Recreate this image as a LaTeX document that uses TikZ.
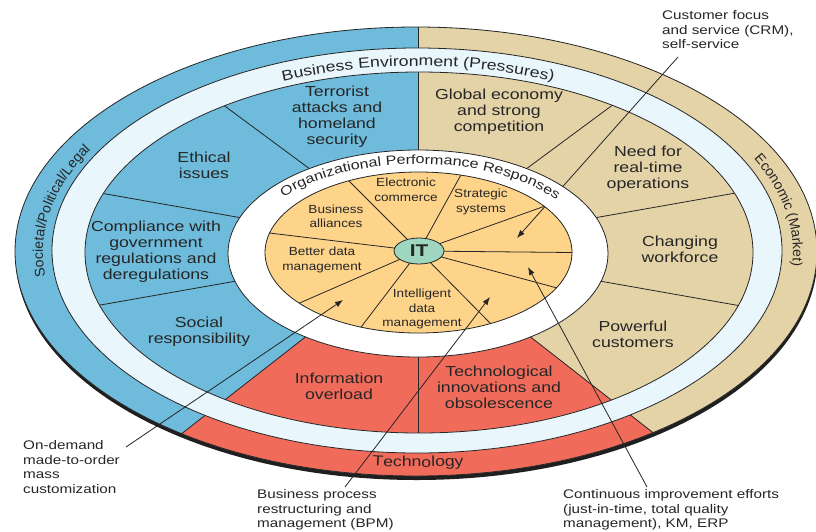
\documentclass[tikz,border=0pt]{standalone}
\usepackage{fontspec}
\setmainfont{Liberation Sans}[FakeStretch=1.22]
\newfontfamily\sidefont{Liberation Sans}
\newfontfamily\respfont{Liberation Sans}[FakeStretch=1.15]
\usetikzlibrary{shapes.geometric,decorations.text,arrows.meta}

\definecolor{envblue}{RGB}{110,187,219}
\definecolor{envtan}{RGB}{229,211,168}
\definecolor{envred}{RGB}{241,107,91}
\definecolor{bandlight}{RGB}{233,246,252}
\definecolor{respgold}{RGB}{254,212,138}
\definecolor{itgreen}{RGB}{158,214,192}
\definecolor{ink}{RGB}{38,38,38}

\tikzset{
  divline/.style={draw=ink, line width=0.8pt},
  rimline/.style={draw=ink, line width=0.8pt},
  press/.style={align=center, inner sep=0pt, text=ink,
    font=\fontsize{14.5}{16}\selectfont},
  resp/.style={align=center, inner sep=0pt, text=ink,
    font=\respfont\fontsize{11.8}{14.5}\selectfont},
  callout/.style={align=left, anchor=north west, inner sep=0pt, text=ink,
    font=\fontsize{12.5}{14.8}\selectfont},
  callline/.style={draw=ink, line width=0.8pt, -{Latex[length=8pt,width=6pt]}},
}

\begin{document}
\begin{tikzpicture}[x=1pt,y=1pt,line join=round]
\useasboundingbox (0,0) rectangle (816,-531);
\fill[white] (0,0) rectangle (816,-531);

% drop shadow under the outer disc
\fill[black!88] (416.5,-255.5) ellipse[x radius=401pt, y radius=224.5pt];

% three environment sectors (outer band and pressures ring)
\begin{scope}
  \clip (416,-251.5) ellipse[x radius=401pt, y radius=224.5pt];
  \fill[envblue] (0,0) rectangle (816,-531);
  \begin{scope}[shift={(418,-249)}]
    \fill[envtan] (0,0) -- (90:700) -- (45:900) -- (0:700) -- (-38:700) -- cycle;
    \fill[envred] (0,0) -- (218:700) -- (270:700) -- (322:700) -- cycle;
    \draw[divline] (0,0) -- (218:700);
    \draw[divline] (0,0) -- (322:700);
    \draw[divline] (0,0) -- (90:700);
  \end{scope}
\end{scope}

% divisions between the individual pressures
\begin{scope}
  \clip (419,-252.5) ellipse[x radius=334pt, y radius=180.5pt];
  \begin{scope}[shift={(418,-249)}]
    \foreach \a in {143.5,170,190,270,350,10,36.5}
      \draw[divline] (0,0) -- (\a:500);
  \end{scope}
\end{scope}

% light band carrying the ring title
\fill[bandlight, even odd rule]
  (417,-250.5) ellipse[x radius=365pt, y radius=202.5pt]
  (419,-252.5) ellipse[x radius=334pt, y radius=180.5pt];
\draw[rimline] (416,-251.5) ellipse[x radius=401pt, y radius=224.5pt];
\draw[rimline] (417,-250.5) ellipse[x radius=365pt, y radius=202.5pt];
\draw[rimline] (419,-252.5) ellipse[x radius=334pt, y radius=180.5pt];

% white ring and the responses disc
\filldraw[fill=white, rimline] (418,-253.5) ellipse[x radius=190pt, y radius=103.5pt];
\fill[respgold] (418.5,-252.5) ellipse[x radius=153.5pt, y radius=80.5pt];
\begin{scope}[shift={(418.5,-252.5)}]
  \foreach \t in {117,74,35,0,-26,-62,248,219,166}
    \draw[divline] (0.5,1.5) -- (\t:153.5pt and 80.5pt);
\end{scope}
\draw[rimline] (418.5,-252.5) ellipse[x radius=153.5pt, y radius=80.5pt];
\node[ellipse, draw=ink, line width=0.8pt, fill=itgreen, minimum width=50pt,
  minimum height=26pt, inner sep=0pt, text=ink,
  font=\fontsize{17}{17}\selectfont\bfseries] (it) at (419,-251) {IT};

% ring titles
\path[decorate, decoration={text along path, text align=center,
  text={|\fontsize{14.5}{14.5}\selectfont\color{ink}|Business Environment (Pressures)}}]
  (418,-252) ++(150:341pt and 186pt)
  arc[start angle=150, end angle=30, x radius=341pt, y radius=186pt];
\path[decorate, decoration={text along path, text align=center,
  text={|\fontsize{13.2}{13.2}\selectfont\color{ink}|Organizational Performance Responses}}]
  (418,-252) ++(165:172pt and 88pt)
  arc[start angle=165, end angle=12, x radius=172pt, y radius=88pt];
\path[decorate, decoration={text along path, text align=center,
  text={|\fontsize{14.5}{14.5}\selectfont\color{ink}|Technology}}]
  (418,-252) ++(245:380pt and 215pt)
  arc[start angle=245, end angle=295, x radius=380pt, y radius=215pt];
\path[decorate, decoration={text along path, text align=center,
  text={|\sidefont\fontsize{14}{14}\selectfont\color{ink}|Societal/Political/Legal}}]
  (418,-252) ++(200:375pt and 209pt)
  arc[start angle=200, end angle=140, x radius=375pt, y radius=209pt];
\path[decorate, decoration={text along path, text align=center,
  text={|\sidefont\fontsize{14}{14}\selectfont\color{ink}|Economic (Market)}}]
  (418,-252) ++(38:375pt and 209pt)
  arc[start angle=38, end angle=-18, x radius=375pt, y radius=209pt];

% pressures
\node[press] (terror) at (337,-117) {Terrorist\\attacks and\\homeland\\security};
\node[press] (ethic) at (204,-165.5) {Ethical\\issues};
\node[press] (comply) at (156,-252) {Compliance with\\government\\regulations and\\deregulations};
\node[press] (social) at (199,-332) {Social\\responsibility};
\node[press] (global) at (499,-112) {Global economy\\and strong\\competition};
\node[press] (realtime) at (648,-169) {Need for\\real-time\\operations};
\node[press] (workforce) at (680,-249.5) {Changing\\workforce};
\node[press] (customers) at (633,-334) {Powerful\\customers};
\node[press] (overload) at (339,-386) {Information\\overload};
\node[press] (innov) at (499,-387.5) {Technological\\innovations and\\obsolescence};

% responses
\node[resp] (ecom) at (406,-190) {Electronic\\commerce};
\node[resp] (strat) at (481,-202) {Strategic\\systems};
\node[resp] (alli) at (336,-216.5) {Business\\alliances};
\node[resp] (bdm) at (322,-260) {Better data\\management};
\node[resp] (idm) at (422,-309) {Intelligent\\data\\management};

% callout notes
\node[callout] (crm) at (662,-10) {Customer focus\\and service (CRM),\\self-service};
\node[callout] (mass) at (23,-440) {On-demand\\made-to-order\\mass\\customization};
\node[callout] (bpm) at (257,-489) {Business process\\restructuring and\\management (BPM)};
\node[callout] (cie) at (563,-489) {Continuous improvement efforts\\(just-in-time, total quality\\management), KM, ERP};

\coordinate (crmend) at (678,-57);
\coordinate (crmtip) at (517,-238);
\coordinate (massend) at (126,-447);
\coordinate (masstip) at (343,-300);
\coordinate (bpmend) at (345,-487);
\coordinate (bpmtip) at (490,-297);
\coordinate (cieend) at (647,-487);
\coordinate (cietip) at (528,-267);

% the CRM leader is hidden by the white ring
\begin{scope}[even odd rule]
  \clip (0,0) rectangle (816,-531)
    (418,-253.5) ellipse[x radius=190pt, y radius=103.5pt]
    (418.5,-252.5) ellipse[x radius=153.5pt, y radius=80.5pt];
  \draw[callline] (crmend) -- (crmtip);
\end{scope}
\draw[callline] (massend) -- (masstip);
\draw[callline] (bpmend) -- (bpmtip);
\draw[callline] (cieend) -- (cietip);
\end{tikzpicture}
\end{document}
